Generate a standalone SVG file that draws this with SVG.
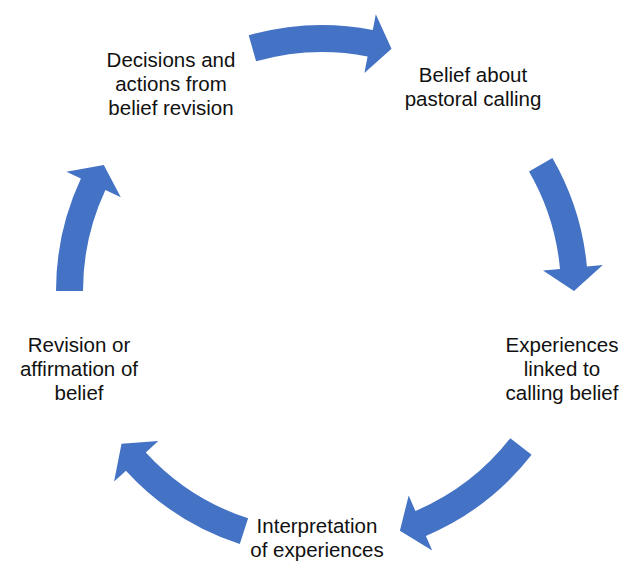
<svg xmlns="http://www.w3.org/2000/svg" width="628" height="574" viewBox="0 0 628 574">
  <style>
    .arrow { fill: #4472C4; stroke: none; }
    .label { font-family: "Liberation Sans", Arial, sans-serif; font-size: 20.5px; fill: #111111; text-anchor: middle; }
  </style>
  <rect width="628" height="574" fill="#ffffff"/>

  <!-- Curved block arrows on a ring centred at (322,291): body r 239..266, head r 222..282 -->
  <g id="connectors">
    <path id="arrow-top" class="arrow" d="M248.7,35.3 A266,266 0 0 1 372.8,29.9 L375.8,14.2 L391.5,48.8 L364.4,73.1 L367.6,56.4 A239,239 0 0 0 256.1,61.3 Z"/>
    <path id="arrow-right" class="arrow" d="M552.4,158 A266,266 0 0 1 586.9,266.4 L602.8,264.9 L574,291 L543,270.5 L560,268.9 A239,239 0 0 0 529,171.5 Z"/>
    <path id="arrow-bottom-right" class="arrow" d="M531.6,454.8 A266,266 0 0 1 425.9,535.9 L432.2,550.6 L399.9,530.7 L408.7,495.4 L415.4,511 A239,239 0 0 0 510.3,438.2 Z"/>
    <path id="arrow-bottom-left" class="arrow" d="M239.8,544 A266,266 0 0 1 125.9,470.7 L114.1,481.5 L121.5,443.7 L158.3,441 L145.8,452.5 A239,239 0 0 0 248.1,518.3 Z"/>
    <path id="arrow-left" class="arrow" d="M56,291 A266,266 0 0 1 80.9,178.6 L66.4,171.8 L103.8,165 L120.8,197.2 L105.4,190 A239,239 0 0 0 83,291 Z"/>
  </g>

  <g id="node-belief">
    <text class="label" x="473" y="82">Belief about</text>
    <text class="label" x="473" y="106">pastoral calling</text>
  </g>
  <g id="node-experiences">
    <text class="label" x="562" y="352">Experiences</text>
    <text class="label" x="562" y="376">linked to</text>
    <text class="label" x="562" y="400">calling belief</text>
  </g>
  <g id="node-interpretation">
    <text class="label" x="317" y="533">Interpretation</text>
    <text class="label" x="317" y="557">of experiences</text>
  </g>
  <g id="node-revision">
    <text class="label" x="79" y="352">Revision or</text>
    <text class="label" x="79" y="376">affirmation of</text>
    <text class="label" x="79" y="400">belief</text>
  </g>
  <g id="node-decisions">
    <text class="label" x="171" y="67">Decisions and</text>
    <text class="label" x="171" y="91">actions from</text>
    <text class="label" x="171" y="115">belief revision</text>
  </g>
</svg>
